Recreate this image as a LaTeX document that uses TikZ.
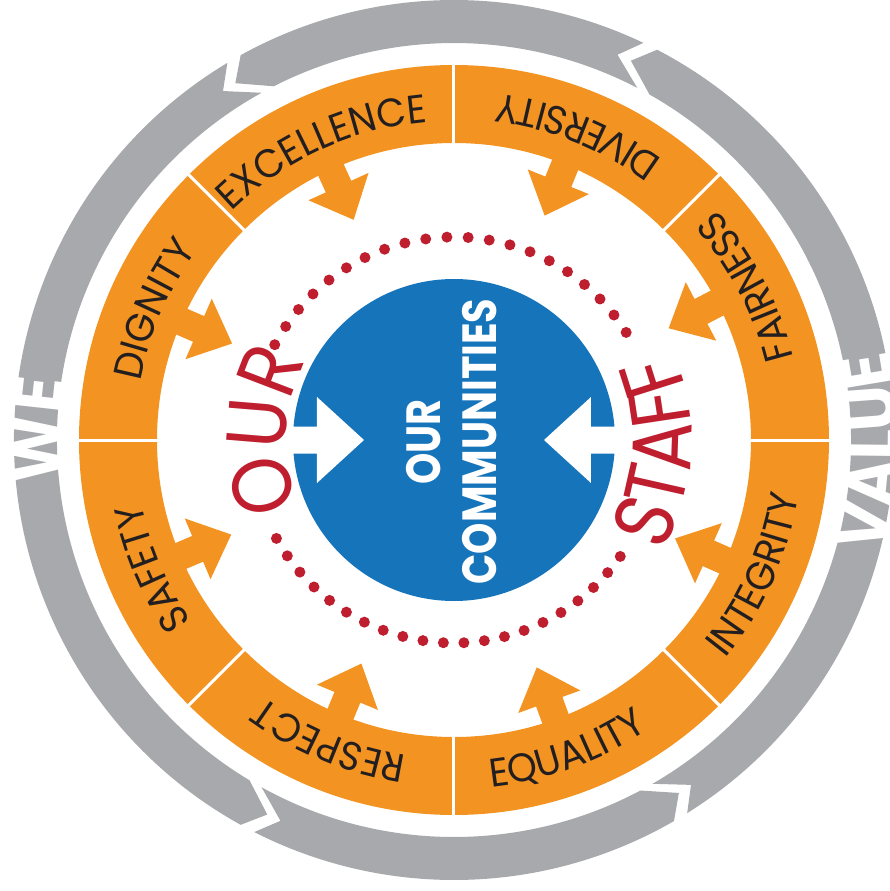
\documentclass[tikz,border=0pt]{standalone}
\usepackage{fontspec}
\setmainfont{Poppins}
\newfontfamily\popring{Poppins}[FakeStretch=0.95]
\newfontfamily\popnarrow{Poppins}[FakeStretch=0.88]
\newfontfamily\pophub{Poppins}[FakeStretch=0.83]
\newfontfamily\popband{Poppins}[FakeStretch=0.9]
\usepackage{tikz}
\usetikzlibrary{decorations.text}
\definecolor{Ring}{HTML}{F39422}
\definecolor{Hub}{HTML}{1674BA}
\definecolor{Band}{HTML}{A7A9AC}
\definecolor{Staff}{HTML}{BE1E2D}
\definecolor{Ink}{HTML}{231F20}
\newcommand\ringfont{\popring\fontsize{20}{20}\selectfont}
\newcommand\redfont{\popnarrow\fontsize{42}{42}\selectfont}
\newcommand\knockfont{\popband\bfseries\fontsize{36}{36}\selectfont}

\begin{document}
\begin{tikzpicture}[x=0.5pt, y=0.5pt,
  ringtext/.style={decorate, decoration={text along path, text align=center,
                   text color=Ink, text={|\ringfont|#1}}},
  stafftext/.style={decorate, decoration={text along path, text align=center,
                   text color=Staff, text={|\redfont|#1}}},
  knockout/.style={decorate, decoration={text along path, text align=center,
                   text color=white, text={|\knockfont|#1}}},
  spoke/.style={fill=Ring, rotate=#1},
  hubtext/.style={text=white, inner sep=0pt, rotate=90,
                  font=\pophub\bfseries\fontsize{24}{24}\selectfont}
]
  \clip (-454,-451) rectangle (436,440);

  % grey cycle: four arrows, heads pointing anticlockwise
  \foreach \tail/\head in {67/121.5, 123.5/243.5, 245.5/302.5, 304.5/425}
    \fill[Band] (\tail-2.5:440) arc[start angle=\tail-2.5, end angle=\head-2.5, radius=440]
      -- (\head:418.5) -- (\head-4.5:397)
      arc[start angle=\head-4.5, end angle=\tail-4.5, radius=397]
      -- (\tail:418.5) -- cycle;
  \path[knockout=WE] (218.7:393) arc[start angle=218.7, end angle=138.7, radius=393];
  \path[knockout=VALUE] (-41.6:444) arc[start angle=-41.6, end angle=38.4, radius=444];

  % orange ring of values
  \fill[Ring, even odd rule] (0,0) circle (375) circle (297);
  \foreach \a in {0,45,...,315}
    \draw[white, line width=1.5pt] (\a:295) -- (\a:377);
  \foreach \a in {114.5,68,27.5,-24,-70,-112.5,-157,156.5}
    \fill[spoke=\a] (300,-14) -- (278.5,-14) -- (278.5,-33) -- (242,0)
      -- (278.5,33) -- (278.5,14) -- (300,14) -- cycle;

  \path[ringtext=EXCELLENCE] (152:319) arc[start angle=152, end angle=77, radius=319];
  \path[ringtext=DIGNITY] (194:319) arc[start angle=194, end angle=119, radius=319];
  \path[ringtext=SAFETY] (240.5:319) arc[start angle=240.5, end angle=165.5, radius=319];
  \path[ringtext=RESPECT] (285:319) arc[start angle=285, end angle=210, radius=319];
  \path[ringtext=DIVERSITY] (30.5:349) arc[start angle=30.5, end angle=105.5, radius=349];
  \path[ringtext=FAIRNESS] (-10:349) arc[start angle=-10, end angle=65, radius=349];
  \path[ringtext=INTEGRITY] (-61.5:349) arc[start angle=-61.5, end angle=13.5, radius=349];
  \path[ringtext=EQUALITY] (-107.5:349) arc[start angle=-107.5, end angle=-32.5, radius=349];

  % blue hub
  \node[circle, fill=Hub, minimum size=161pt, inner sep=0pt] (hub) at (0,0) {};
  \fill[white] (-163,-13.5) -- (-137,-13.5) -- (-137,-43) -- (-90,0)
    -- (-137,43) -- (-137,13.5) -- (-163,13.5) -- cycle;
  \fill[white, xscale=-1] (-163,-13.5) -- (-137,-13.5) -- (-137,-43) -- (-90,0)
    -- (-137,43) -- (-137,13.5) -- (-163,13.5) -- cycle;
  \node[hubtext] (our) at (-30.5,-2) {OUR};
  \node[hubtext] (communities) at (26,-1.5) {COMMUNITIES};

  % dotted red circle, broken by the two words
  \foreach \k in {0,...,20} {
    \fill[Staff] (32+6*\k:203) circle (5.5);
    \fill[Staff] (-151+5.8*\k:203) circle (5.5);
  }
  \path[stafftext=OUR] (217.5:168) arc[start angle=217.5, end angle=137.5, radius=168];
  \path[stafftext=STAFF] (-45:237) arc[start angle=-45, end angle=39, radius=237];
\end{tikzpicture}
\end{document}
